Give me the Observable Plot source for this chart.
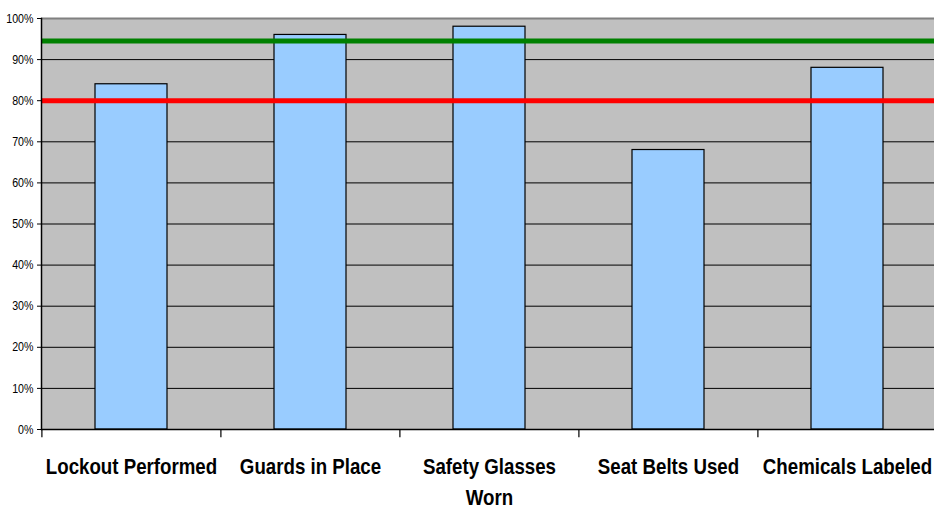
<!DOCTYPE html>
<html>
<head>
<meta charset="utf-8">
<script src="https://cdn.jsdelivr.net/npm/d3@7"></script>
<script src="https://cdn.jsdelivr.net/npm/@observablehq/plot@0.6"></script>
<style>
  html, body { margin: 0; padding: 0; background: #fff; overflow: hidden; }
</style>
</head>
<body>
<div id="chart"></div>
<script>
const categories = ["Lockout Performed", "Guards in Place", "Safety Glasses Worn", "Seat Belts Used", "Chemicals Labeled"];
const tickLabels = ["Lockout Performed", "Guards in Place", "Safety Glasses\nWorn", "Seat Belts Used", "Chemicals Labeled"];
const values = [84, 96, 98, 68, 88];
const goal = 94.5;
const minimum = 80;
const yTicks = [0, 10, 20, 30, 40, 50, 60, 70, 80, 90, 100];
const gridTicks = [10, 20, 30, 40, 50, 60, 70, 80, 90];

const data = categories.map((c, i) => ({category: c, value: values[i]}));
const labelMap = new Map(categories.map((c, i) => [c, tickLabels[i]]));

const W = 934, H = 512, mL = 41, mR = -3;
const step = (W - mL - mR) / categories.length;

const chart = Plot.plot({
  width: W,
  height: H,
  marginLeft: mL,
  marginRight: mR,
  marginTop: 18,
  marginBottom: 83,
  style: {fontFamily: "'Liberation Sans', Arial, sans-serif", color: "#000", background: "#fff", overflow: "hidden"},
  x: {domain: categories, paddingInner: 0.6, paddingOuter: 0.3, label: null},
  y: {domain: [0, 100], label: null},
  marks: [
    Plot.frame({fill: "#c0c0c0", stroke: null}),
    Plot.ruleY(gridTicks, {stroke: "#000", strokeWidth: 1}),
    Plot.ruleY([100], {stroke: "#808080", strokeWidth: 2}),
    Plot.barY(data, {x: "category", y: "value", fill: "#99ccff", stroke: "#000", strokeWidth: 1.2}),
    Plot.ruleY([minimum], {stroke: "#ff0000", strokeWidth: 5}),
    Plot.ruleY([goal], {stroke: "#008000", strokeWidth: 5}),
    Plot.ruleY([0], {stroke: "#000", strokeWidth: 1.5}),
    Plot.frame({anchor: "left", stroke: "#000", strokeWidth: 1.5}),
    Plot.ruleX(categories, {x: d => d, dx: -step / 2, y1: 0, y2: -2, stroke: "#000", strokeWidth: 1.2, clip: false}),
    Plot.axisY({ticks: yTicks, tickFormat: d => d + "%", tickSize: 4, tickPadding: 4, fontSize: 13, stroke: "#000", label: null}),
    Plot.axisX({tickSize: 0, tickPadding: 23, fontSize: 22, fontWeight: "bold", lineHeight: 1.4, tickFormat: d => labelMap.get(d), label: null})
  ]
});
// condense text horizontally to mimic a narrow face
d3.select(chart).selectAll("g[aria-label='x-axis tick label'] text")
  .attr("transform", function() { return (this.getAttribute("transform") || "") + " scale(0.85,1)"; });
d3.select(chart).selectAll("g[aria-label='y-axis tick label'] text")
  .attr("transform", function() { return (this.getAttribute("transform") || "") + " scale(0.82,1)"; });
document.getElementById("chart").appendChild(chart);
</script>
</body>
</html>
